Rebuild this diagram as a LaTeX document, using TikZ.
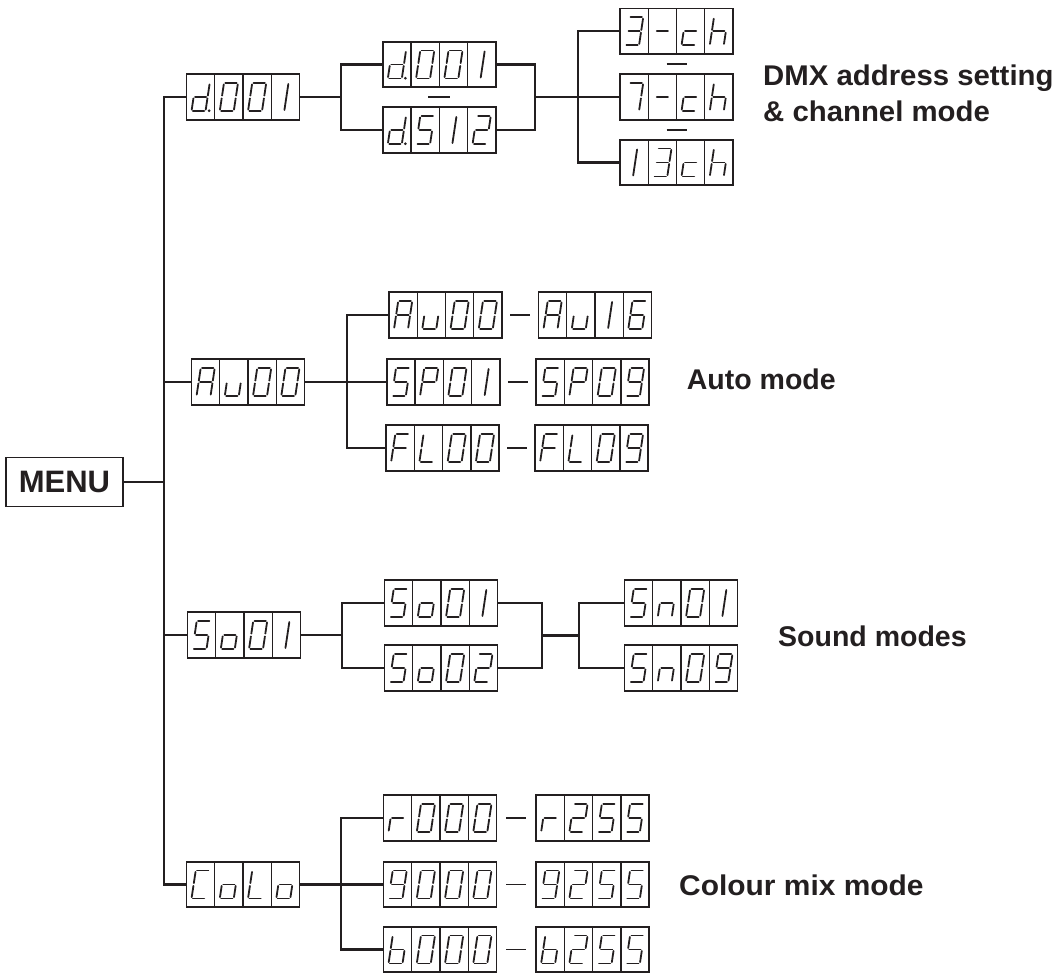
\documentclass[tikz,border=0pt]{standalone}
\usepackage{fontspec}
\setmainfont{Liberation Sans}
\usetikzlibrary{calc}
\definecolor{ink}{HTML}{231F20}
\tikzset{
 dbox/.style={draw=ink, line width=1.6pt, minimum width=113pt, minimum height=45.5pt, inner sep=0pt, outer sep=0pt},
 divl/.style={draw=ink, line width=1.3pt},
 segsty/.style={draw=ink, line width=1.8pt, line cap=round},
 conn/.style={draw=ink, line width=2.4pt},
 rangedash/.style={draw=ink, line width=1.8pt},
 lbl/.style={font=\bfseries\fontsize{28.5}{32}\selectfont, text=ink, anchor=base west, inner sep=0pt},
 menubox/.style={draw=ink, line width=1.8pt, minimum width=117pt, minimum height=49pt, inner sep=0pt, text=ink, font=\bfseries\fontsize{31}{31}\selectfont},
}
% seven-segment pieces (local coordinates, y up)
\newcommand\zsga{\draw[segsty] (-5.6,14) -- (5.6,14);}
\newcommand\zsgb{\draw[segsty] (7,1.4) -- (7,12.6);}
\newcommand\zsgc{\draw[segsty] (7,-12.6) -- (7,-1.4);}
\newcommand\zsgd{\draw[segsty] (-5.6,-14) -- (5.6,-14);}
\newcommand\zsge{\draw[segsty] (-7,-12.6) -- (-7,-1.4);}
\newcommand\zsgf{\draw[segsty] (-7,1.4) -- (-7,12.6);}
\newcommand\zsgg{\draw[segsty] (-5.6,0) -- (5.6,0);}
\newcommand\zsgm{\draw[segsty] (1,-13) -- (1,13);}
\def\gZero{a,b,c,d,e,f}
\def\gOne{m}
\def\gTwo{a,b,g,e,d}
\def\gThree{a,b,g,c,d}
\def\gFive{a,f,g,c,d}
\def\gSix{a,f,g,e,d,c}
\def\gSeven{a,b,c}
\def\gNine{a,b,c,d,f,g}
\def\gA{a,b,c,e,f,g}
\def\gLb{f,e,g,c,d}
\def\gC{a,f,e,d}
\def\gLc{g,e,d}
\def\gLd{b,c,d,e,g}
\def\gF{a,f,g,e}
\def\gLh{f,e,g,c}
\def\gL{f,e,d}
\def\gLn{e,g,c}
\def\gLo{c,d,e,g}
\def\gP{a,b,f,g,e}
\def\gLr{e,g}
\def\gLu{c,d,e}
\def\gDash{g}
\newcommand\zglyph[2]{\begin{scope}[shift={#1},x=1pt,y=1pt,xslant=0.15]\foreach \s in #2 {\csname zsg\s\endcsname}\end{scope}}
\newcommand\zdisp[6]{%
 \node[dbox] (#1) at #2 {};
 \foreach \k in {0.25,0.5,0.75}{\draw[divl] ($(#1.north west)!\k!(#1.north east)$) -- ($(#1.south west)!\k!(#1.south east)$);}
 \zglyph{($(#1.west)!0.125!(#1.east)$)}{#3}
 \zglyph{($(#1.west)!0.375!(#1.east)$)}{#4}
 \zglyph{($(#1.west)!0.625!(#1.east)$)}{#5}
 \zglyph{($(#1.west)!0.875!(#1.east)$)}{#6}
}
\begin{document}
\begin{tikzpicture}[x=1pt,y=-1pt]
\useasboundingbox (0,0) rectangle (1059,973);
% MENU
\node[menubox] (menu) at (64.5,482) {MENU};
% level 1
\zdisp{dA}{(243,97)}{\gLd}{\gZero}{\gZero}{\gOne}
\zdisp{aA}{(248,382)}{\gA}{\gLu}{\gZero}{\gZero}
\zdisp{sA}{(244,635)}{\gFive}{\gLo}{\gZero}{\gOne}
\zdisp{cA}{(243,884.5)}{\gC}{\gLo}{\gL}{\gLo}
% DMX group
\zdisp{dB}{(439.3,64.5)}{\gLd}{\gZero}{\gZero}{\gOne}
\zdisp{dC}{(439.3,130)}{\gLd}{\gFive}{\gOne}{\gTwo}
\zdisp{chA}{(676.5,31.3)}{\gThree}{\gDash}{\gLc}{\gLh}
\zdisp{chB}{(676.5,97)}{\gSeven}{\gDash}{\gLc}{\gLh}
\zdisp{chC}{(676.5,162.5)}{\gOne}{\gThree}{\gLc}{\gLh}
\fill[ink] ($(dA.south west)+(22.5,-9)$) circle (1.5pt);
\fill[ink] ($(dB.south west)+(22.5,-9)$) circle (1.5pt);
\fill[ink] ($(dC.south west)+(22.5,-9)$) circle (1.5pt);
% Auto group
\zdisp{aB}{(445.5,315)}{\gA}{\gLu}{\gZero}{\gZero}
\zdisp{aC}{(595,315)}{\gA}{\gLu}{\gOne}{\gSix}
\zdisp{pA}{(443.3,382)}{\gFive}{\gP}{\gZero}{\gOne}
\zdisp{pB}{(592.6,382)}{\gFive}{\gP}{\gZero}{\gNine}
\zdisp{fA}{(442.6,448)}{\gF}{\gL}{\gZero}{\gZero}
\zdisp{fB}{(591.6,448)}{\gF}{\gL}{\gZero}{\gNine}
% Sound group
\zdisp{sB}{(441,603)}{\gFive}{\gLo}{\gZero}{\gOne}
\zdisp{sC}{(441,668)}{\gFive}{\gLo}{\gZero}{\gTwo}
\zdisp{nA}{(681,603)}{\gFive}{\gLn}{\gZero}{\gOne}
\zdisp{nB}{(681,668)}{\gFive}{\gLn}{\gZero}{\gNine}
% Colour group
\zdisp{rA}{(440,818)}{\gLr}{\gZero}{\gZero}{\gZero}
\zdisp{rB}{(592.6,818)}{\gLr}{\gTwo}{\gFive}{\gFive}
\zdisp{gA}{(440,884.5)}{\gNine}{\gZero}{\gZero}{\gZero}
\zdisp{gB}{(592.6,884.5)}{\gNine}{\gTwo}{\gFive}{\gFive}
\zdisp{bA}{(440,949.5)}{\gLb}{\gZero}{\gZero}{\gZero}
\zdisp{bB}{(592.6,949.5)}{\gLb}{\gTwo}{\gFive}{\gFive}
% junction coordinates
\coordinate (trunk) at (164,482);
\coordinate (j1) at (341,97);
\coordinate (j2) at (535,97);
\coordinate (j3) at (578,97);
\coordinate (j4) at (347,382);
\coordinate (j5) at (342,635);
\coordinate (j6) at (542,635.5);
\coordinate (j7) at (579,635.5);
\coordinate (j8) at (341,884.5);
% connectors
\draw[conn] (menu.east) -- (trunk);
\draw[conn] (dA.west) -| (trunk) |- (cA.west);
\draw[conn] (aA.west) -- (aA.west -| trunk);
\draw[conn] (sA.west) -- (sA.west -| trunk);
\draw[conn] (dA.east) -- (j1);
\draw[conn] (dB.west) -| (j1) |- (dC.west);
\draw[conn] (dB.east) -| (j2) |- (dC.east);
\draw[conn] (j2) -- (j3);
\draw[conn] (chA.west) -| (j3) |- (chC.west);
\draw[conn] (j3) -- (chB.west);
\draw[conn] (aA.east) -- (j4);
\draw[conn] (aB.west) -| (j4) |- (fA.west);
\draw[conn] (j4) -- (pA.west);
\draw[conn] (sA.east) -- (j5);
\draw[conn] (sB.west) -| (j5) |- (sC.west);
\draw[conn] (sB.east) -| (j6) |- (sC.east);
\draw[conn] (j6) -- (j7);
\draw[conn] (nA.west) -| (j7) |- (nB.west);
\draw[conn] (cA.east) -- (j8);
\draw[conn] (rA.west) -| (j8) |- (bA.west);
\draw[conn] (j8) -- (gA.west);
% range dashes
\draw[rangedash] ($(dB.south)!0.5!(dC.north)$) +(-11,0) -- +(11,0);
\draw[rangedash] ($(chA.south)!0.5!(chB.north)$) +(-10,0) -- +(10,0);
\draw[rangedash] ($(chB.south)!0.5!(chC.north)$) +(-10,0) -- +(10,0);
\draw[rangedash] ($(aB.east)!0.5!(aC.west)$) +(-10,0) -- +(10,0);
\draw[rangedash] ($(pA.east)!0.5!(pB.west)$) +(-10,0) -- +(10,0);
\draw[rangedash] ($(fA.east)!0.5!(fB.west)$) +(-10,0) -- +(10,0);
\draw[rangedash] ($(rA.east)!0.5!(rB.west)$) +(-10,0) -- +(10,0);
\draw[rangedash] ($(gA.east)!0.5!(gB.west)$) +(-10,0) -- +(10,0);
\draw[rangedash] ($(bA.east)!0.5!(bB.west)$) +(-10,0) -- +(10,0);
% labels
\node[lbl] (dmxa) at (763,85.7) {\scalebox{1.03}[1]{DMX address setting}};
\node[lbl] (dmxb) at (763,121.7) {\scalebox{1.03}[1]{\& channel mode}};
\node[lbl] (auto) at (686.7,389) {Auto mode};
\node[lbl] (sound) at (778,646) {Sound modes};
\node[lbl] (colour) at (679,895) {\scalebox{1.05}[1]{Colour mix mode}};
\end{tikzpicture}
\end{document}
